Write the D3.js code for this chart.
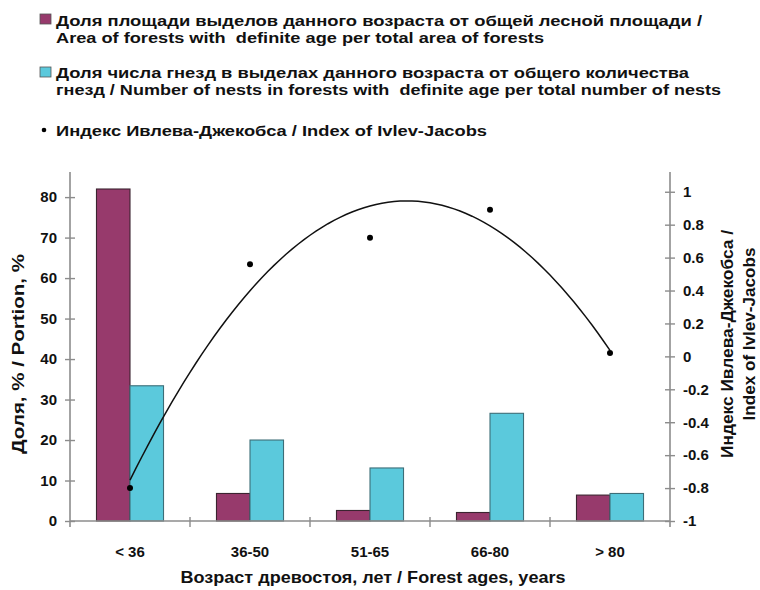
<!DOCTYPE html>
<html>
<head>
<meta charset="utf-8">
<script src="https://cdn.jsdelivr.net/npm/d3@7"></script>
<style>
  html, body { margin: 0; padding: 0; background: #fff; }
  svg { display: block; font-family: "Liberation Sans", Arial, sans-serif; }
  text { white-space: pre; }
</style>
</head>
<body>
<svg id="chart" width="760" height="590"></svg>
<script>
// Forest age classes
const categories = ["< 36", "36-50", "51-65", "66-80", "> 80"];
// Share of stand area of each age in total forest area, %
const areaShare = [82.0, 6.8, 2.6, 2.1, 6.4];
// Share of nests in stands of each age in total number of nests, %
const nestShare = [33.4, 20.0, 13.1, 26.6, 6.8];
// Ivlev-Jacobs selectivity index
const ivlevIndex = [-0.80, 0.56, 0.72, 0.89, 0.02];

const leftTicks = [0, 10, 20, 30, 40, 50, 60, 70, 80];
const rightTicks = [-1, -0.8, -0.6, -0.4, -0.2, 0, 0.2, 0.4, 0.6, 0.8, 1];
const rightTickLabels = ["-1", "-0.8", "-0.6", "-0.4", "-0.2", "0", "0.2", "0.4", "0.6", "0.8", "1"];

const legendItems = [
  { lines: ["Доля площади выделов данного возраста от общей лесной площади /",
            "Area of forests with  definite age per total area of forests"], key: "area" },
  { lines: ["Доля числа гнезд в выделах данного возраста от общего количества",
            "гнезд / Number of nests in forests with  definite age per total number of nests"], key: "nests" },
  { lines: ["Индекс Ивлева-Джекобса / Index of Ivlev-Jacobs"], key: "index" }
];

const colors = { area: "#973a6c", nests: "#5bc9dc" };
const axisColor = "#8c8c8c";
const font = "\"Liberation Sans\", Arial, sans-serif";

const svg = d3.select("#chart");

// plot frame
const plotLeft = 70, plotRight = 670, plotTop = 172, plotBase = 521;

const x = d3.scaleBand().domain(categories).range([plotLeft, plotRight]).paddingInner(0).paddingOuter(0);
const xs = d3.scaleBand().domain(["area", "nests"]).range([0, x.bandwidth()]).paddingInner(0).paddingOuter(0.79);
const yL = d3.scaleLinear().domain([0, 86.2]).range([plotBase, plotTop]);
const yR = d3.scaleLinear().domain([-1, 1.12]).range([plotBase, plotTop]);

// bars
const groups = svg.append("g").selectAll("g")
  .data(categories)
  .join("g")
  .attr("transform", d => `translate(${x(d)},0)`);

groups.append("rect")
  .attr("x", xs("area"))
  .attr("width", xs.bandwidth())
  .attr("y", (d, i) => yL(areaShare[i]))
  .attr("height", (d, i) => plotBase - yL(areaShare[i]))
  .attr("fill", colors.area)
  .attr("stroke", "#3b2430")
  .attr("stroke-width", 1.1);

groups.append("rect")
  .attr("x", xs("nests"))
  .attr("width", xs.bandwidth())
  .attr("y", (d, i) => yL(nestShare[i]))
  .attr("height", (d, i) => plotBase - yL(nestShare[i]))
  .attr("fill", colors.nests)
  .attr("stroke", "#3d6e78")
  .attr("stroke-width", 1.1);

// x baseline and category separators
svg.append("line")
  .attr("x1", plotLeft).attr("x2", plotRight).attr("y1", plotBase).attr("y2", plotBase)
  .attr("stroke", axisColor).attr("stroke-width", 1.6);

svg.append("g").selectAll("line")
  .data(categories.slice(1))
  .join("line")
  .attr("x1", d => x(d)).attr("x2", d => x(d))
  .attr("y1", plotBase - 4).attr("y2", plotBase + 6)
  .attr("stroke", axisColor).attr("stroke-width", 1.4);

// category labels
const xAxis = svg.append("g")
  .attr("transform", `translate(0,${plotBase})`)
  .call(d3.axisBottom(x).tickSize(0).tickPadding(25));
xAxis.select(".domain").remove();
xAxis.selectAll("text")
  .attr("font-family", font).attr("font-size", 15).attr("font-weight", "bold").attr("fill", "#111");

// left axis
const yAxisL = svg.append("g")
  .attr("transform", `translate(${plotLeft},0)`)
  .call(d3.axisLeft(yL).tickValues(leftTicks).tickSize(5).tickPadding(8).tickFormat(d3.format("d")));
yAxisL.select(".domain").remove();
yAxisL.selectAll(".tick line").attr("x1", 5).attr("x2", -5).attr("stroke", axisColor).attr("stroke-width", 1.4);
yAxisL.selectAll("text")
  .attr("font-family", font).attr("font-size", 15).attr("font-weight", "bold").attr("fill", "#111");
svg.append("line")
  .attr("x1", plotLeft).attr("x2", plotLeft).attr("y1", plotTop).attr("y2", plotBase + 6)
  .attr("stroke", axisColor).attr("stroke-width", 1.6);

// right axis
const yAxisR = svg.append("g")
  .attr("transform", `translate(${plotRight},0)`)
  .call(d3.axisRight(yR).tickValues(rightTicks).tickSize(5).tickPadding(8)
    .tickFormat((d, i) => rightTickLabels[i]));
yAxisR.select(".domain").remove();
yAxisR.selectAll(".tick line").attr("x1", -5).attr("x2", 5).attr("stroke", axisColor).attr("stroke-width", 1.4);
yAxisR.selectAll("text")
  .attr("font-family", font).attr("font-size", 15).attr("font-weight", "bold").attr("fill", "#111");
svg.append("line")
  .attr("x1", plotRight).attr("x2", plotRight).attr("y1", plotTop).attr("y2", plotBase + 6)
  .attr("stroke", axisColor).attr("stroke-width", 1.6);

// polynomial (2nd order) trend line of the index
const n = ivlevIndex.length;
const xsIdx = d3.range(1, n + 1);
const S = k => d3.sum(xsIdx, v => Math.pow(v, k));
const T = k => d3.sum(xsIdx, (v, i) => Math.pow(v, k) * ivlevIndex[i]);
function solve3(A, b) {
  const M = A.map((r, i) => r.concat([b[i]]));
  for (let c = 0; c < 3; c++) {
    let p = c;
    for (let r = c + 1; r < 3; r++) if (Math.abs(M[r][c]) > Math.abs(M[p][c])) p = r;
    [M[c], M[p]] = [M[p], M[c]];
    for (let r = 0; r < 3; r++) {
      if (r === c) continue;
      const f = M[r][c] / M[c][c];
      for (let k = c; k < 4; k++) M[r][k] -= f * M[c][k];
    }
  }
  return M.map((r, i) => r[3] / r[i]);
}
const coef = solve3(
  [[n, S(1), S(2)], [S(1), S(2), S(3)], [S(2), S(3), S(4)]],
  [T(0), T(1), T(2)]
);
const trend = t => coef[0] + coef[1] * t + coef[2] * t * t;
const centerX = t => x(categories[0]) + x.bandwidth() / 2 + (t - 1) * x.step();
const samples = d3.range(1, n + 0.0001, 0.05);

svg.append("path")
  .datum(samples)
  .attr("d", d3.line().x(t => centerX(t)).y(t => yR(trend(t))).curve(d3.curveLinear))
  .attr("fill", "none")
  .attr("stroke", "#111")
  .attr("stroke-width", 1.5);

svg.append("g").selectAll("circle")
  .data(ivlevIndex)
  .join("circle")
  .attr("cx", (d, i) => x(categories[i]) + x.bandwidth() / 2)
  .attr("cy", d => yR(d))
  .attr("r", 3)
  .attr("fill", "#000");

// axis titles
svg.append("text")
  .attr("x", 373).attr("y", 583)
  .attr("text-anchor", "middle")
  .attr("font-family", font).attr("font-size", 16.5).attr("font-weight", "bold").attr("fill", "#111")
  .attr("textLength", 385).attr("lengthAdjust", "spacingAndGlyphs")
  .text("Возраст древостоя, лет / Forest ages, years");

svg.append("text")
  .attr("transform", "translate(24,354) rotate(-90)")
  .attr("text-anchor", "middle")
  .attr("font-family", font).attr("font-size", 16.5).attr("font-weight", "bold").attr("fill", "#111")
  .attr("textLength", 200).attr("lengthAdjust", "spacingAndGlyphs")
  .text("Доля, % / Portion, %");

const rightTitle = [
  { text: "Индекс Ивлева-Джекобса /", bx: 733, cy: 344, len: 228 },
  { text: "Index of Ivlev-Jacobs", bx: 755, cy: 334, len: 173 }
];
svg.append("g").selectAll("text")
  .data(rightTitle)
  .join("text")
  .attr("transform", d => `translate(${d.bx},${d.cy}) rotate(-90)`)
  .attr("text-anchor", "middle")
  .attr("font-family", font).attr("font-size", 16).attr("font-weight", "bold").attr("fill", "#111")
  .attr("textLength", d => d.len).attr("lengthAdjust", "spacingAndGlyphs")
  .text(d => d.text);

// legend
const legendLayout = [
  { y: [26, 43], w: [646, 488], marker: { y: 14 } },
  { y: [78, 95], w: [633, 665], marker: { y: 67 } },
  { y: [136], w: [431], marker: { y: 130 } }
];
const legendX = 56;
legendItems.forEach((item, k) => {
  const lay = legendLayout[k];
  if (item.key === "index") {
    svg.append("circle").attr("cx", 44).attr("cy", lay.marker.y).attr("r", 2.3).attr("fill", "#000");
  } else {
    svg.append("rect")
      .attr("x", 40).attr("y", lay.marker.y).attr("width", 11).attr("height", 10)
      .attr("fill", colors[item.key]).attr("stroke", "#555").attr("stroke-width", 0.8);
  }
  item.lines.forEach((line, j) => {
    svg.append("text")
      .attr("x", legendX).attr("y", lay.y[j])
      .attr("font-family", font).attr("font-size", 15).attr("font-weight", "bold").attr("fill", "#111")
      .attr("textLength", lay.w[j]).attr("lengthAdjust", "spacingAndGlyphs")
      .text(line);
  });
});
</script>
</body>
</html>
